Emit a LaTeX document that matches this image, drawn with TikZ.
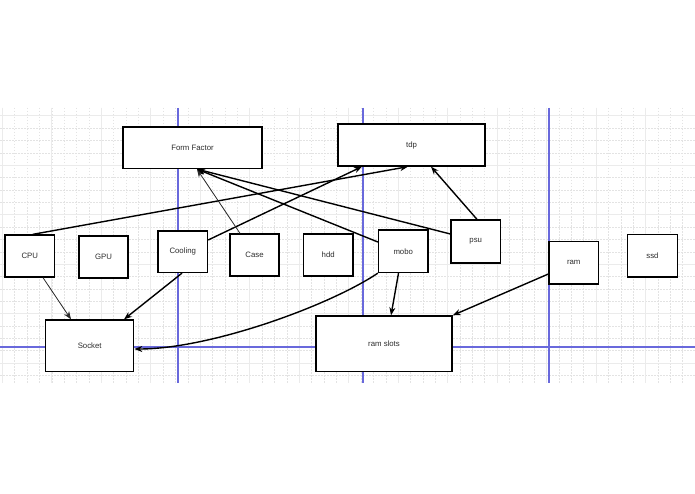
\documentclass[tikz,border=0pt]{standalone}
\usepackage{fontspec}
\setmainfont{Liberation Sans}
\usetikzlibrary{arrows.meta}
\definecolor{txt}{RGB}{45,45,45}
\tikzset{
  minorgrid/.style={draw=black!11, line width=0.5pt, dash pattern=on 1.5pt off 1.5pt},
  majorgrid/.style={draw=black!8, line width=0.8pt},
  pageline/.style={draw={rgb,255:red,105;green,105;blue,220}, line width=1.1pt},
  box/.style={draw=black, line width=1.3pt, fill=white, inner sep=0pt, font=\fontsize{7.8}{9}\selectfont, text=txt},
  link/.style={draw=black, line width=1.4pt, -{Stealth[length=8pt,width=6pt]}},
  thinlink/.style={draw=black!85, line width=0.8pt, -{Stealth[length=8pt,width=6pt]}}
}
\begin{document}
\begin{tikzpicture}[x=1pt,y=-1pt]
\useasboundingbox (0,0) rectangle (695,494);
\fill[white] (0,0) rectangle (695,494);
% grid
\foreach \i in {0,...,56} {
  \pgfmathsetmacro\xx{2.3+12.37*\i}
  \draw[minorgrid] (\xx,108) -- (\xx,383);
}
\foreach \i in {0,...,21} {
  \pgfmathsetmacro\yy{115.7+12.37*\i}
  \draw[minorgrid] (0,\yy) -- (695,\yy);
}
\foreach \i in {0,...,14} {
  \pgfmathsetmacro\xx{2.3+49.48*\i}
  \draw[majorgrid] (\xx,108) -- (\xx,383);
}
\foreach \i in {0,...,5} {
  \pgfmathsetmacro\yy{115.7+49.48*\i}
  \draw[majorgrid] (0,\yy) -- (695,\yy);
}
% page break lines
\draw[pageline] (178,108) -- (178,383);
\draw[pageline] (363,108) -- (363,383);
\draw[pageline] (549,108) -- (549,383);
\draw[pageline] (0,347) -- (695,347);
% nodes
\node[box, minimum width=139pt, minimum height=41.5pt] (ff) at (192.5,147.75) {Form Factor};
\node[box, minimum width=147pt, minimum height=42pt] (tdp) at (411.5,145) {tdp};
\node[box, minimum width=49.5pt, minimum height=42pt] (cpu) at (29.75,256) {CPU};
\node[box, minimum width=49pt, minimum height=42pt] (gpu) at (103.5,257) {GPU};
\node[box, minimum width=49.5pt, minimum height=41.5pt] (cool) at (182.75,251.75) {Cooling};
\node[box, minimum width=49pt, minimum height=42pt] (case) at (254.5,255) {Case};
\node[box, minimum width=49.5pt, minimum height=42pt] (hdd) at (328.25,255) {hdd};
\node[box, minimum width=49.5pt, minimum height=42.5pt] (mobo) at (403.25,251.25) {mobo};
\node[box, minimum width=49.5pt, minimum height=43pt] (psu) at (475.75,241.5) {psu};
\node[box, minimum width=49.5pt, minimum height=42.5pt] (ram) at (573.75,262.75) {ram};
\node[box, minimum width=50pt, minimum height=42.5pt] (ssd) at (652.5,255.75) {ssd};
\node[box, minimum width=88pt, minimum height=51.7pt] (socket) at (89.7,345.85) {Socket};
\node[box, minimum width=136pt, minimum height=55.7pt] (slots) at (384,343.85) {ram slots};
% connectors
\draw[link] ([xshift=3pt]cpu.north) -- ([xshift=-3.5pt]tdp.south);
\draw[link] ([yshift=11.75pt]cool.east) -- ([xshift=-49.5pt]tdp.south);
\draw[thinlink] ([xshift=-14.5pt]case.north) -- ([xshift=4.5pt]ff.south);
\draw[link] ([yshift=9.25pt]mobo.west) -- ([xshift=4.5pt]ff.south);
\draw[link] ([yshift=7.5pt]psu.west) -- ([xshift=4.5pt]ff.south);
\draw[link] ([xshift=1.25pt]psu.north) -- ([xshift=19.5pt]tdp.south);
\draw[thinlink] ([xshift=13.25pt]cpu.south) -- ([xshift=-18.7pt]socket.north);
\draw[link] ([xshift=-0.75pt]cool.south) -- ([xshift=34.3pt]socket.north);
\draw[link] (mobo.south west) .. controls +(-48.5,32.5) and +(76,0) .. ([yshift=-3.15pt]socket.east);
\draw[link] ([xshift=-4.75pt]mobo.south) -- ([xshift=7pt]slots.north);
\draw[link] ([yshift=-11.25pt]ram.west) -- (slots.north east);
\end{tikzpicture}
\end{document}
